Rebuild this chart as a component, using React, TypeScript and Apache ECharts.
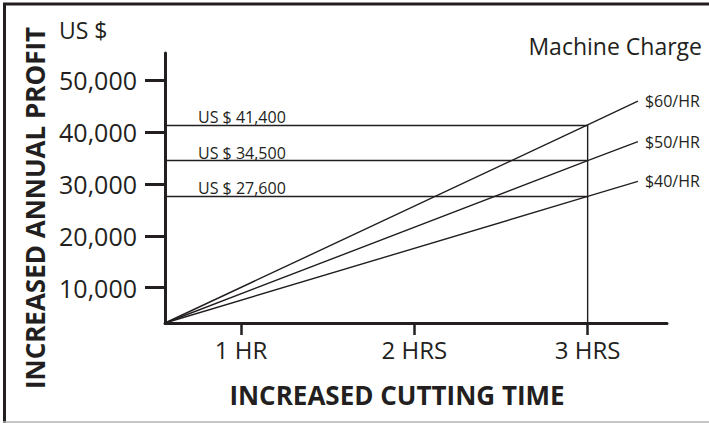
import React, { useEffect, useRef } from 'react';
import * as echarts from 'echarts';

const xTickValues = [1, 2, 3];
const xTickLabels = ['1 HR', '2 HRS', '3 HRS'];
const yTickValues = [10000, 20000, 30000, 40000, 50000];
const xExtent = [0.561, 3.458];
const yExtent = [3150, 55300];
const rateNames = ['$60/HR', '$50/HR', '$40/HR'];
const profitAt3Hrs = [41400, 34500, 27600];
const lineEndX = 3.29;
const lineEndY = [46000, 38200, 30500];
const guideLabels = ['US $ 41,400', 'US $ 34,500', 'US $ 27,600'];

const INK = '#231f20';
const FONT = '"Open Sans", "Noto Sans", sans-serif';

export default function App() {
  const ref = useRef<HTMLDivElement>(null);
  useEffect(() => {
    if (!ref.current) return;
    const chart = echarts.init(ref.current, null, { renderer: 'svg' });
    const rateSeries = rateNames.map((name, i) => ({
      type: 'line',
      name,
      data: [
        [xExtent[0], yExtent[0]],
        [3, profitAt3Hrs[i]],
        [lineEndX, lineEndY[i]],
      ],
      symbol: 'none',
      lineStyle: { color: INK, width: 1.4 },
      endLabel: {
        show: true,
        formatter: name,
        fontSize: 16,
        fontFamily: FONT,
        color: INK,
        distance: 7,
      },
      markLine: {
        silent: true,
        symbol: ['none', 'none'],
        lineStyle: { type: 'solid', color: INK, width: 1.4 },
        label: {
          show: true,
          position: 'insideStartTop',
          formatter: guideLabels[i],
          fontSize: 16,
          fontFamily: FONT,
          color: INK,
          padding: [0, 0, 0, 33],
          distance: 0,
        },
        data: [[{ coord: [xExtent[0], profitAt3Hrs[i]] }, { coord: [3, profitAt3Hrs[i]] }]],
      },
    }));
    chart.setOption({
      animation: false,
      grid: { left: 165, top: 53, right: 42, bottom: 100, containLabel: false },
      xAxis: {
        type: 'value',
        min: xExtent[0],
        max: xExtent[1],
        splitLine: { show: false },
        axisLine: { show: true, lineStyle: { color: INK, width: 3 } },
        axisTick: {
          show: true,
          customValues: xTickValues,
          length: 12,
          lineStyle: { color: INK, width: 2.5 },
        },
        axisLabel: {
          customValues: xTickValues,
          formatter: (v: number) => xTickLabels[xTickValues.indexOf(Math.round(v))] ?? '',
          fontSize: 24,
          fontFamily: FONT,
          color: INK,
          margin: 14,
        },
      },
      yAxis: {
        type: 'value',
        min: yExtent[0],
        max: yExtent[1],
        splitLine: { show: false },
        axisLine: { show: true, lineStyle: { color: INK, width: 3 } },
        axisTick: {
          show: true,
          customValues: yTickValues,
          length: 20,
          lineStyle: { color: INK, width: 3 },
        },
        axisLabel: {
          customValues: yTickValues,
          formatter: (v: number) => v.toLocaleString('en-US'),
          fontSize: 25,
          fontFamily: FONT,
          color: INK,
          margin: 28,
        },
      },
      series: [
        ...rateSeries,
        {
          type: 'line',
          data: [
            [3, yExtent[0]],
            [3, profitAt3Hrs[0]],
          ],
          symbol: 'none',
          lineStyle: { color: INK, width: 1.4 },
        },
      ],
      graphic: [
        { type: 'line', shape: { x1: 4.5, y1: 3, x2: 4.5, y2: 423 }, style: { stroke: INK, lineWidth: 3 } },
        { type: 'line', shape: { x1: 3, y1: 4, x2: 709, y2: 4 }, style: { stroke: INK, lineWidth: 3 } },
        { type: 'line', shape: { x1: 3, y1: 422, x2: 709, y2: 422 }, style: { stroke: '#b3b3b3', lineWidth: 1.5 } },
        {
          type: 'text', x: 59, y: 30,
          style: { text: 'US $', fontSize: 23, fontFamily: FONT, fill: INK, verticalAlign: 'middle', align: 'left' },
        },
        {
          type: 'text', x: 702, y: 46,
          style: { text: 'Machine Charge', fontSize: 23, fontFamily: FONT, fill: INK, verticalAlign: 'middle', align: 'right' },
        },
        {
          type: 'text', x: 397, y: 395,
          style: { text: 'INCREASED CUTTING TIME', fontSize: 26, fontWeight: 'bold', fontFamily: FONT, fill: INK, verticalAlign: 'middle', align: 'center' },
        },
        {
          type: 'text', x: 35, y: 208, rotation: Math.PI / 2,
          style: { text: 'INCREASED ANNUAL PROFIT', fontSize: 26, fontWeight: 'bold', fontFamily: FONT, fill: INK, verticalAlign: 'middle', align: 'center' },
        },
      ],
    });
    return () => chart.dispose();
  }, []);
  return (
    <div style={{ position: 'fixed', left: 0, top: 0, width: 709, height: 423, background: '#fff' }}>
      <div ref={ref} style={{ width: 709, height: 423 }} />
    </div>
  );
}
